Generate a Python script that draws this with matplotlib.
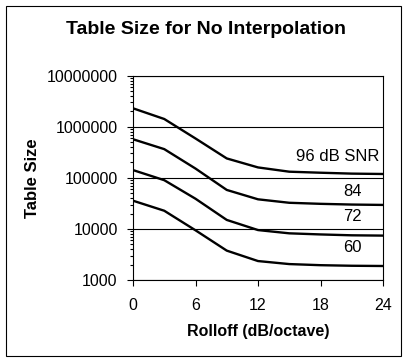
import matplotlib
matplotlib.use("Agg")
import matplotlib.pyplot as plt
from matplotlib.patches import Rectangle
from matplotlib.ticker import LogLocator, NullFormatter

rolloff = [0, 3, 6, 9, 12, 15, 18, 21, 24]
snr96 = [2.3e6, 1.42e6, 5.9e5, 2.4e5, 1.6e5, 1.32e5, 1.26e5, 1.21e5, 1.19e5]
snr84 = [5.7e5, 3.65e5, 1.52e5, 5.8e4, 3.8e4, 3.25e4, 3.1e4, 3.0e4, 2.95e4]
snr72 = [1.42e5, 9.0e4, 3.9e4, 1.5e4, 9.5e3, 8.2e3, 7.8e3, 7.5e3, 7.4e3]
snr60 = [3.57e4, 2.27e4, 9.4e3, 3.76e3, 2.35e3, 2.05e3, 1.95e3, 1.9e3, 1.88e3]
series = [snr96, snr84, snr72, snr60]
labels = ["96 dB SNR", "84", "72", "60"]
yticks = [1e3, 1e4, 1e5, 1e6, 1e7]
ytick_labels = ["1000", "10000", "100000", "1000000", "10000000"]
xticks = [0, 6, 12, 18, 24]

plt.rcParams['font.family'] = ['Liberation Sans', 'DejaVu Sans']

fig = plt.figure(figsize=(4.09, 3.62), dpi=100)
ax = fig.add_axes([133/409, 82/362, 250/409, 204.3/362])

for s in series:
    ax.plot(rolloff, s, color='black', lw=1.7, solid_joinstyle='round')

ax.set_yscale('log')
ax.set_ylim(1e3, 1e7)
ax.set_xlim(0, 24)
ax.set_yticks(yticks)
ax.set_yticklabels(ytick_labels)
ax.yaxis.set_minor_locator(LogLocator(base=10, subs=range(2, 10)))
ax.yaxis.set_minor_formatter(NullFormatter())
ax.set_xticks(xticks)
ax.set_xticklabels([str(v) for v in xticks])
ax.tick_params(axis='both', which='major', direction='out', length=4, width=0.8,
               labelsize=11.5, color='black')
ax.tick_params(axis='x', which='major', pad=9)
ax.tick_params(axis='y', which='major', pad=7)
ax.tick_params(axis='y', which='minor', direction='out', length=2.5, width=0.8)
ax.grid(True, axis='y', which='major', color='black', lw=0.8)
for sp in ax.spines.values():
    sp.set_linewidth(0.8)
    sp.set_color('black')

# series labels
ax.text(23.7, 10**5.414, labels[0], ha='right', va='center', fontsize=12)
ax.text(21.1, 10**4.729, labels[1], ha='center', va='center', fontsize=12)
ax.text(21.1, 10**4.234, labels[2], ha='center', va='center', fontsize=12)
ax.text(21.1, 10**3.646, labels[3], ha='center', va='center', fontsize=12)

ax.set_xlabel("Rolloff (dB/octave)", fontsize=11.5, fontweight='bold', labelpad=8)
ax.set_ylabel("Table Size", fontsize=12, fontweight='bold', labelpad=5)
fig.text(206/409, 1 - 30/362, "Table Size for No Interpolation", ha='center', va='center',
         fontsize=14, fontweight='bold')

fig.patches.append(Rectangle((6/409, 6/362), 395/409, 350/362, transform=fig.transFigure,
                             fill=False, edgecolor='black', lw=0.8))

fig.savefig("out.png", dpi=100)
